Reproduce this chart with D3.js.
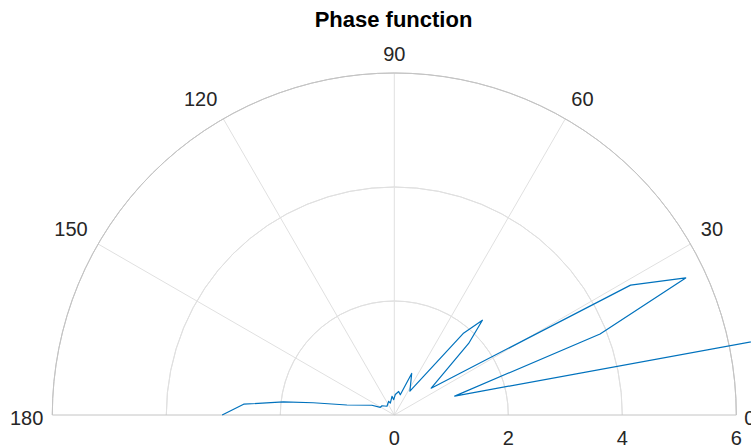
<!DOCTYPE html>
<html>
<head>
<meta charset="utf-8">
<script src="https://cdn.jsdelivr.net/npm/d3@7"></script>
<style>
  body { margin: 0; background: #fff; }
  text { font-family: "Liberation Sans", Arial, Helvetica, sans-serif; fill: #262626; }
</style>
</head>
<body>
<div id="vis-container"></div>
<script>
// phase function data (angle in degrees, value)
let thetaDeg = [11, 17.4, 21.5, 25.2, 28.8, 36.0, 43.9, 47.1, 49.8, 56.8, 67.3, 73.5, 79.5, 87.2,
  92.2, 97, 108.4, 112.2, 130, 143, 151.2, 156.5, 168.1, 171.4, 173.3, 175.9, 180];
let rValues = [12, 1.11, 3.88, 5.65, 4.73, 0.80, 1.81, 2.27, 1.87, 0.50, 0.79, 0.37, 0.42, 0.36,
  0.27, 0.33, 0.22, 0.26, 0.20, 0.27, 0.28, 0.43, 0.85, 1.44, 1.96, 2.65, 3.02];
let thetaTicks = [0, 30, 60, 90, 120, 150, 180];
let rTicks = [0, 2, 4, 6];

let width = 751, height = 448;
let cx = 394.3, cy = 415, R = 342;

let svg = d3.select("#vis-container")
  .append("svg")
  .attr("width", width)
  .attr("height", height);

let g = svg.append("g")
  .attr("transform", `translate(${cx}, ${cy})`);

let r = d3.scaleLinear()
  .domain([0, 6])
  .range([0, R]);

let toRad = d => d * Math.PI / 180;

// arcs for the half circle (d3 angles are clockwise from 12 o'clock)
let arc = d3.arc()
  .innerRadius(d => r(d))
  .outerRadius(d => r(d))
  .startAngle(-Math.PI / 2)
  .endAngle(Math.PI / 2);

// grid circles
g.selectAll(".ring")
  .data(rTicks.filter(d => d > 0 && d < 6))
  .enter()
  .append("path")
  .attr("class", "ring")
  .attr("d", d => arc(d))
  .attr("fill", "none")
  .attr("stroke", "#e0e0e0")
  .attr("stroke-width", 1);

// spokes
g.selectAll(".spoke")
  .data(thetaTicks.filter(d => d > 0 && d < 180))
  .enter()
  .append("line")
  .attr("class", "spoke")
  .attr("x1", 0)
  .attr("y1", 0)
  .attr("x2", d => r(6) * Math.cos(toRad(d)))
  .attr("y2", d => -r(6) * Math.sin(toRad(d)))
  .attr("stroke", "#e0e0e0")
  .attr("stroke-width", 1);

// outer edge
g.append("path")
  .attr("d", arc(6) )
  .attr("fill", "none")
  .attr("stroke", "#c4c4c4")
  .attr("stroke-width", 1);

g.append("line")
  .attr("x1", -r(6))
  .attr("x2", r(6))
  .attr("y1", 0)
  .attr("y2", 0)
  .attr("stroke", "#c4c4c4")
  .attr("stroke-width", 1);

// theta labels
let pad = 12;
g.selectAll(".theta-label")
  .data(thetaTicks)
  .enter()
  .append("text")
  .attr("class", "theta-label")
  .attr("x", d => {
    if (d === 0) return r(6) + 8;
    if (d === 180) return -r(6) - 9;
    return (r(6) + pad) * Math.cos(toRad(d));
  })
  .attr("y", d => {
    if (d === 0 || d === 180) return 10;
    return -(r(6) + pad) * Math.sin(toRad(d)) + (d === 90 ? 0 : -2);
  })
  .attr("text-anchor", d => {
    let c = Math.cos(toRad(d));
    return c > 0.1 ? "start" : (c < -0.1 ? "end" : "middle");
  })
  .attr("font-size", "20px")
  .text(d => d);

// r labels under the baseline
g.selectAll(".r-label")
  .data(rTicks)
  .enter()
  .append("text")
  .attr("class", "r-label")
  .attr("x", d => r(d))
  .attr("y", 30)
  .attr("text-anchor", "middle")
  .attr("font-size", "20px")
  .text(d => d);

// data line
let data = thetaDeg.map((t, i) => ({theta: t, r: rValues[i]}));

let line = d3.lineRadial()
  .angle(d => Math.PI / 2 - toRad(d.theta))
  .radius(d => r(d.r));

g.append("path")
  .datum(data)
  .attr("d", line)
  .attr("fill", "none")
  .attr("stroke", "#0072BD")
  .attr("stroke-width", 1.2)
  .attr("stroke-linejoin", "round");

// title
svg.append("text")
  .attr("x", 393.5)
  .attr("y", 26.5)
  .attr("text-anchor", "middle")
  .attr("font-size", "22px")
  .attr("font-weight", "bold")
  .style("fill", "#000")
  .text("Phase function");
</script>
</body>
</html>
